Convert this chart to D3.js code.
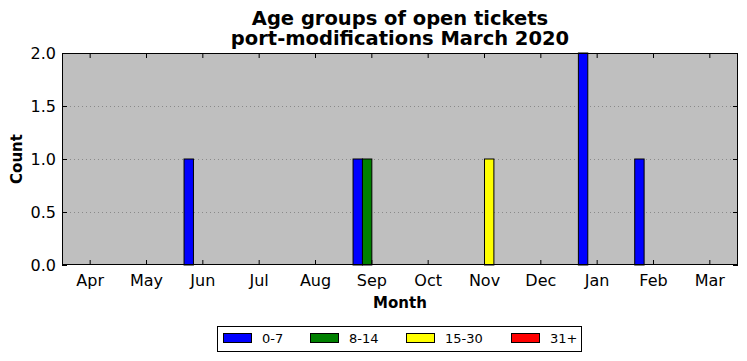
<!DOCTYPE html>
<html>
<head>
<meta charset="utf-8">
<script src="https://cdn.jsdelivr.net/npm/d3@7"></script>
<style>
  body { margin: 0; background: #fff; }
  text { font-family: "DejaVu Sans", sans-serif; }
</style>
</head>
<body>
<div id="chart"></div>
<script>
var months = ["Apr", "May", "Jun", "Jul", "Aug", "Sep", "Oct", "Nov", "Dec", "Jan", "Feb", "Mar"];
var groups = ["0-7", "8-14", "15-30", "31+"];
var colors = ["#0000ff", "#008000", "#ffff00", "#ff0000"];
var age0_7   = [0, 0, 1, 0, 0, 1, 0, 0, 0, 2, 1, 0];
var age8_14  = [0, 0, 0, 0, 0, 1, 0, 0, 0, 0, 0, 0];
var age15_30 = [0, 0, 0, 0, 0, 0, 0, 1, 0, 0, 0, 0];
var age31    = [0, 0, 0, 0, 0, 0, 0, 0, 0, 0, 0, 0];
var series = [age0_7, age8_14, age15_30, age31];
var yTicks = [0, 0.5, 1.0, 1.5, 2.0];

var width = 747, height = 361;
var pLeft = 62, pRight = 738, pTop = 53, pBottom = 265;   // plot area

var svg = d3.select("#chart").append("svg")
            .attr("width", width)
            .attr("height", height);

var x = d3.scaleBand().domain(months).range([pLeft, pRight]);
var y = d3.scaleLinear().domain([0, 2]).range([pBottom, pTop]);
var bw = x.bandwidth() / 6;   // one bar width

// plot background
svg.append("rect")
   .attr("x", pLeft).attr("y", pTop)
   .attr("width", pRight - pLeft).attr("height", pBottom - pTop)
   .attr("fill", "#bfbfbf");

// dotted grid
svg.append("g").selectAll("line")
   .data(yTicks.slice(1, -1))
   .enter().append("line")
   .attr("x1", pLeft).attr("x2", pRight)
   .attr("y1", function(d) { return Math.round(y(d)) + 0.5; })
   .attr("y2", function(d) { return Math.round(y(d)) + 0.5; })
   .attr("stroke", "#8a8a8a")
   .attr("stroke-width", 1)
   .attr("stroke-dasharray", "1,3");

// bars
series.forEach(function(vals, i) {
  svg.append("g").selectAll("rect")
     .data(vals)
     .enter().append("rect")
     .attr("x", function(d, j) { return x(months[j]) + x.bandwidth() / 2 + (i - 2) * bw; })
     .attr("y", function(d) { return y(d); })
     .attr("width", bw)
     .attr("height", function(d) { return pBottom - y(d); })
     .attr("fill", colors[i])
     .attr("stroke", "#000")
     .attr("stroke-width", 1);
});

// axes, ticks inside
var xb = svg.append("g").attr("transform", "translate(0," + pBottom + ")")
            .call(d3.axisBottom(x).tickSizeInner(-5).tickSizeOuter(0).tickPadding(10));
var xt = svg.append("g").attr("transform", "translate(0," + pTop + ")")
            .call(d3.axisTop(x).tickSizeInner(-5).tickSizeOuter(0).tickFormat(""));
var yl = svg.append("g").attr("transform", "translate(" + pLeft + ",0)")
            .call(d3.axisLeft(y).tickValues(yTicks).tickFormat(d3.format(".1f"))
                    .tickSizeInner(-5).tickSizeOuter(0).tickPadding(6));
var yr = svg.append("g").attr("transform", "translate(" + pRight + ",0)")
            .call(d3.axisRight(y).tickValues(yTicks).tickSizeInner(-5).tickSizeOuter(0).tickFormat(""));

[xb, xt, yl, yr].forEach(function(g) {
  g.select(".domain").remove();
  g.selectAll("line").attr("stroke", "#000");
  g.selectAll("text").attr("font-size", 16).attr("fill", "#000")
   .style("font-family", "DejaVu Sans, sans-serif");
});

// frame
svg.append("rect")
   .attr("x", pLeft + 0.5).attr("y", pTop + 0.5)
   .attr("width", pRight - pLeft - 1).attr("height", pBottom - pTop - 1)
   .attr("fill", "none").attr("stroke", "#000").attr("stroke-width", 1);

// titles
svg.append("text").attr("x", 400).attr("y", 25).attr("text-anchor", "middle")
   .attr("font-size", 19.5).attr("font-weight", "bold")
   .text("Age groups of open tickets");
svg.append("text").attr("x", 400).attr("y", 45).attr("text-anchor", "middle")
   .attr("font-size", 19.5).attr("font-weight", "bold")
   .text("port-modifications March 2020");
svg.append("text").attr("x", 400).attr("y", 308).attr("text-anchor", "middle")
   .attr("font-size", 15).attr("font-weight", "bold")
   .text("Month");
svg.append("text").attr("transform", "translate(22,159) rotate(-90)")
   .attr("text-anchor", "middle")
   .attr("font-size", 15).attr("font-weight", "bold")
   .text("Count");

// legend
var legX = [223, 310, 406, 511];
var leg = svg.append("g");
leg.append("rect").attr("x", 217.5).attr("y", 326.5).attr("width", 364).attr("height", 25)
   .attr("fill", "#fff").attr("stroke", "#000").attr("stroke-width", 1);
groups.forEach(function(g, i) {
  leg.append("rect").attr("x", legX[i] + 0.5).attr("y", 333.5).attr("width", 28).attr("height", 9)
     .attr("fill", colors[i]).attr("stroke", "#000").attr("stroke-width", 1);
  leg.append("text").attr("x", legX[i] + 39).attr("y", 343)
     .attr("font-size", 13).text(g);
});
</script>
</body>
</html>
